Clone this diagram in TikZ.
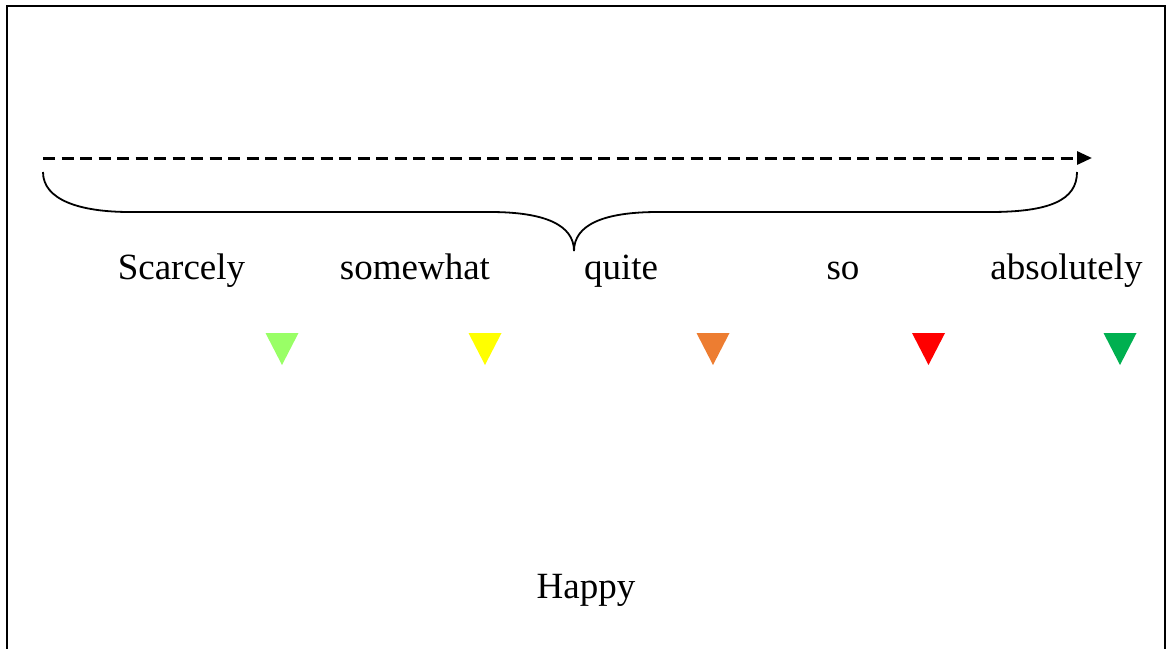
\documentclass[tikz,border=0pt]{standalone}
\usepackage{fontspec}
\setmainfont{Liberation Serif}
\usetikzlibrary{arrows.meta}
\definecolor{lgreen}{HTML}{99FF66}
\definecolor{myellow}{HTML}{FFFF00}
\definecolor{morange}{HTML}{ED7D31}
\definecolor{mred}{HTML}{FF0000}
\definecolor{mgreen}{HTML}{00B050}
\begin{document}
\begin{tikzpicture}
            [x=1pt, y=-1pt,
        word/.style={anchor=base, inner sep=0pt, font=\fontsize{37}{44}\selectfont},
        degreeline/.style={line width=3pt, dash pattern=on 12pt off 6.5pt, -{Triangle[length=15pt,width=13pt]}},
        curly/.style={line width=1.8pt}]
            \useasboundingbox (0,0) rectangle (1169,648);
            \draw[line width=2pt] (7,670) -- (7,6) -- (1165,6) -- (1165,670);

            \coordinate (S) at (43,158);
            \coordinate (T) at (1092,158);
            \draw[degreeline] (S) -- (T);

            \coordinate (L) at (43,172);
            \coordinate (M) at (574,251);
            \coordinate (R) at (1077,172);
            \draw[curly] (L) .. controls (43,200) and (80,212) .. (130,212) -- (490,212)
                .. controls (545,212) and (574,225) .. (M);
            \draw[curly] (M) .. controls (574,225) and (603,212) .. (658,212) -- (990,212)
                .. controls (1050,212) and (1077,200) .. (R);

            \node[word] (scarcely) at (181.5,279) {Scarcely};
            \node[word] (somewhat) at (415,279) {somewhat};
            \node[word] (quite) at (621,279) {quite};
            \node[word] (so) at (843,279) {so};
            \node[word] (absolutely) at (1066.5,279) {absolutely};
            \node[word] (happy) at (586,598) {Happy};

            \fill[lgreen] (265.5,333) -- ++(33,0) -- ++(-16.5,32) -- cycle;
            \fill[myellow] (468.5,333) -- ++(33,0) -- ++(-16.5,32) -- cycle;
            \fill[morange] (696.5,333) -- ++(33,0) -- ++(-16.5,32) -- cycle;
            \fill[mred] (912,333) -- ++(33,0) -- ++(-16.5,32) -- cycle;
            \fill[mgreen] (1103.5,333) -- ++(33,0) -- ++(-16.5,32) -- cycle;
        \end{tikzpicture}
\end{document}
